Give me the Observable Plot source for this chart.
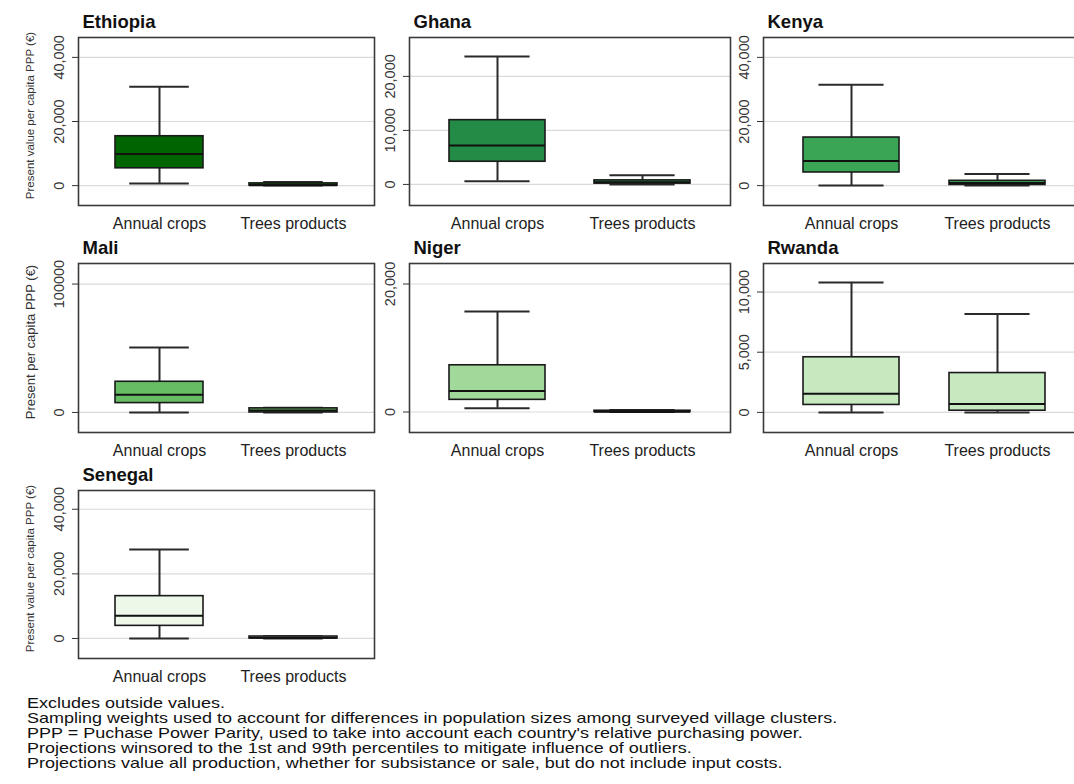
<!DOCTYPE html>
<html><head><meta charset="utf-8">
<script src="https://cdn.jsdelivr.net/npm/d3@7"></script>
<script src="https://cdn.jsdelivr.net/npm/@observablehq/plot@0.6"></script>
<style>
body{margin:0;background:#fff;}
#chart{position:relative;width:1074px;height:784px;overflow:hidden;font-family:"Liberation Sans",Arial,sans-serif;background:#fff;}
.panel{position:absolute;}
#notes{position:absolute;left:27px;top:696px;font-size:14.5px;line-height:15px;color:#111;white-space:nowrap;transform:scaleX(1.24);transform-origin:0 0;}
</style></head><body>
<div id="chart"><div id="notes"></div></div>
<script>
// ---- data ----
const countries = ["Ethiopia", "Ghana", "Kenya", "Mali", "Niger", "Rwanda", "Senegal"];
const categories = ["Annual crops", "Trees products"];
const yTitles = ["Present value per capita PPP (€)", "", "", "Present per capita PPP (€)", "", "", "Present value per capita PPP (€)"];
const boxColors = ["#006400", "#238b45", "#3aa655", "#66bd63", "#a1d99b", "#c7e9c0", "#edf8e9"];

// Annual crops box statistics (lower whisker, Q1, median, Q3, upper whisker)
const annualLow  = [700, 600, 0, 0, 600, 0, 0];
const annualQ1   = [5400, 4200, 4100, 7300, 1900, 620, 3900];
const annualMed  = [9900, 7200, 7700, 13800, 3300, 1540, 7000];
const annualQ3   = [15400, 11900, 15000, 23900, 7300, 4580, 13100];
const annualHigh = [30800, 23700, 31500, 50600, 15700, 10800, 27500];
// Trees products box statistics
const treesLow  = [0, 0, 0, 0, 0, 0, 0];
const treesQ1   = [0, 150, 200, 0, 0, 140, 0];
const treesMed  = [150, 400, 800, 1500, 50, 700, 200];
const treesQ3   = [700, 750, 1500, 3200, 200, 3270, 600];
const treesHigh = [1100, 1700, 3600, 3600, 300, 8180, 700];

const yTicks = [[0, 20000, 40000], [0, 10000, 20000], [0, 20000, 40000], [0, 100000], [0, 20000], [0, 5000, 10000], [0, 20000, 40000]];
const yTickLabels = [["0", "20,000", "40,000"], ["0", "10,000", "20,000"], ["0", "20,000", "40,000"], ["0", "100000"], ["0", "20,000"], ["0", "5,000", "10,000"], ["0", "20,000", "40,000"]];
const yDomains = [[-6200, 46200], [-3900, 27200], [-6200, 46200], [-15600, 116000], [-3200, 23200], [-1670, 12370], [-6200, 45800]];

const notes = [
  "Excludes outside values.",
  "Sampling weights used to account for differences in population sizes among surveyed village clusters.",
  "PPP = Puchase Power Parity, used to take into account each country's relative purchasing power.",
  "Projections winsored to the 1st and 99th percentiles to mitigate influence of outliers.",
  "Projections value all production, whether for subsistance or sale, but do not include input costs."
];

// ---- layout ----
const cols = [
  {left: 0, width: 376, ml: 78, mr: 2},
  {left: 376, width: 356, ml: 33, mr: 2},
  {left: 732, width: 358, ml: 31, mr: 5}
];
const rowsL = [
  {top: 0, height: 231, mt: 37, mb: 26},
  {top: 232, height: 226, mt: 31, mb: 26},
  {top: 459, height: 225, mt: 31, mb: 26}
];
const FONT = '"Liberation Sans", Arial, sans-serif';
const pIn = 0.34, pOut = 0.27;

const chart = document.getElementById("chart");

countries.forEach((country, i) => {
  const C = cols[i % 3], R = rowsL[Math.floor(i / 3)];
  const data = [
    {cat: categories[0], low: annualLow[i], q1: annualQ1[i], med: annualMed[i], q3: annualQ3[i], high: annualHigh[i]},
    {cat: categories[1], low: treesLow[i], q1: treesQ1[i], med: treesMed[i], q3: treesQ3[i], high: treesHigh[i]}
  ];
  const frameW = C.width - C.ml - C.mr;
  const bw = frameW * (1 - pIn) / (2 - pIn + 2 * pOut);
  const capInset = bw * 0.16;
  const ticks = yTicks[i], labels = yTickLabels[i];
  const marks = [
    Plot.gridY(ticks, {stroke: "#dadada", strokeOpacity: 1, strokeWidth: 1.2}),
    Plot.ruleX(data, {x: "cat", y1: "low", y2: "q1", stroke: "#2a2a2a", strokeWidth: 2}),
    Plot.ruleX(data, {x: "cat", y1: "q3", y2: "high", stroke: "#2a2a2a", strokeWidth: 2}),
    Plot.tickY(data, {x: "cat", y: "low", stroke: "#2a2a2a", strokeWidth: 2, insetLeft: capInset, insetRight: capInset}),
    Plot.tickY(data, {x: "cat", y: "high", stroke: "#2a2a2a", strokeWidth: 2, insetLeft: capInset, insetRight: capInset}),
    Plot.barY(data, {x: "cat", y1: "q1", y2: "q3", fill: boxColors[i], stroke: "#1a1a1a", strokeWidth: 1.6}),
    Plot.tickY(data, {x: "cat", y: "med", stroke: "#111", strokeWidth: 2}),
    Plot.frame({stroke: "#3a3a3a", strokeWidth: 1.6}),
    Plot.axisY(ticks, {tickRotate: -90, tickSize: 6, tickPadding: 9, fontSize: 14.5, stroke: "#333", fill: "#333",
      tickFormat: d => labels[ticks.indexOf(d)], label: null}),
    Plot.axisX({tickSize: 0, tickPadding: 12, fontSize: 16, fill: "#222", label: null}),
    Plot.text([country], {text: d => d, frameAnchor: "top-left", dx: 4, dy: -10, lineAnchor: "bottom", textAnchor: "start",
      fontWeight: "bold", fontSize: 18.5, fill: "#111"})
  ];
  if (yTitles[i]) {
    marks.push(Plot.text([yTitles[i]], {text: d => d, frameAnchor: "left", rotate: -90, dx: -48, dy: -6,
      textAnchor: "middle", lineAnchor: "middle", fontSize: i === 3 ? 13 : 11.5, fill: "#333"}));
  }
  const svg = Plot.plot({
    width: C.width, height: R.height,
    marginLeft: C.ml, marginRight: C.mr, marginTop: R.mt, marginBottom: R.mb,
    style: {fontFamily: FONT, background: "transparent", overflow: "visible", color: "#222"},
    x: {domain: categories, paddingInner: pIn, paddingOuter: pOut, axis: null},
    y: {domain: yDomains[i], axis: null},
    marks
  });
  svg.classList.add("panel");
  svg.style.left = C.left + "px";
  svg.style.top = R.top + "px";
  chart.appendChild(svg);
});

const notesDiv = document.getElementById("notes");
notes.forEach(t => { const d = document.createElement("div"); d.textContent = t; notesDiv.appendChild(d); });
</script>
</body></html>
